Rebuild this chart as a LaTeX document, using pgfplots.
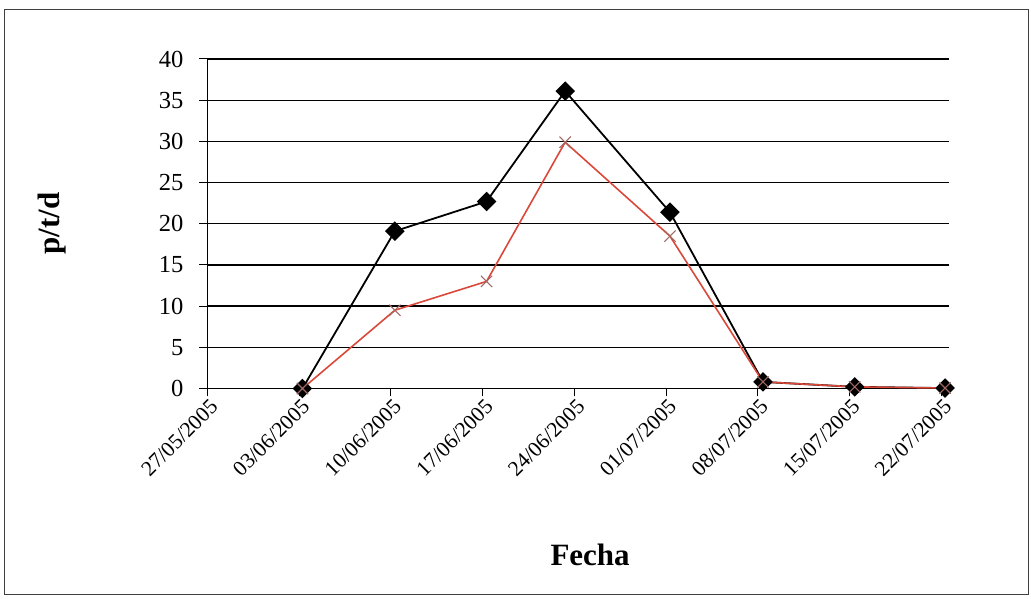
\documentclass[border=0pt]{standalone}
\usepackage{pgfplots}
\pgfplotsset{compat=1.18}
\usepackage{fontspec}
\setmainfont{Liberation Serif}
\definecolor{redline}{RGB}{218,72,58}
\definecolor{redmark}{RGB}{160,105,100}
\begin{document}
\begin{tikzpicture}[x=1pt,y=1pt]
\useasboundingbox (0,0) rectangle (1031,599);
\draw[black!75, line width=0.9pt] (4,5) rectangle (1028,590);
\begin{axis}[
  at={(207.5pt,210.5pt)}, anchor=south west,
  scale only axis, width=741.5pt, height=329.5pt,
  xmin=0, xmax=56.6, ymin=0, ymax=40,
  axis lines*=left,
  axis line style={line width=1.2pt, black},
  tick align=outside, major tick length=8pt,
  tick style={line width=1pt, black},
  xtick={0,7,14,21,28,35,42,49,56},
  xticklabels={27/05/2005,03/06/2005,10/06/2005,17/06/2005,24/06/2005,01/07/2005,08/07/2005,15/07/2005,22/07/2005},
  ytick={0,5,...,40},
  ymajorgrids, grid style={black, line width=1.3pt},
  /pgf/number format/assume math mode=true,
  xticklabel style={font=\fontsize{21.5}{25}\selectfont, rotate=45, anchor=north east, inner sep=1pt, xshift=1pt, yshift=-1pt},
  yticklabel style={font=\fontsize{24.5}{28}\selectfont, inner sep=0pt, xshift=-16pt},
  xlabel={Fecha}, ylabel={p/t/d},
  label style={font=\fontsize{31}{35}\selectfont\bfseries},
  xlabel style={at={(axis description cs:0.516,-0.505)}, anchor=center},
  ylabel style={at={(axis description cs:-0.21,0.5)}, anchor=center, rotate=0},
  clip=false,
]
\addplot[black, line width=1.8pt, mark=square*, mark size=6pt, mark options={rotate=45, fill=black}] coordinates {
 (7.25,0) (14.3,19.1) (21.3,22.7) (27.3,36.1) (35.3,21.4) (42.4,0.8) (49.4,0.2) (56.3,0.05)
};
\addplot[redline, line width=1.6pt, mark=x, mark size=8pt, mark options={redmark, line width=1.1pt}] coordinates {
 (7.25,0) (14.3,9.5) (21.3,13.0) (27.3,29.9) (35.3,18.5) (42.4,0.8) (49.4,0.2) (56.3,0.05)
};
\end{axis}
\end{tikzpicture}
\end{document}
